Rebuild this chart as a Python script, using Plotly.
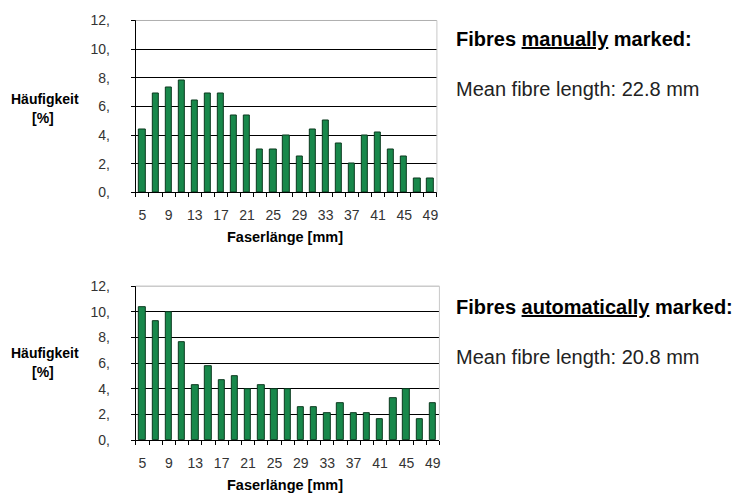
import plotly.graph_objects as go

lengths = list(range(5, 50, 2))
manual = [4.4, 6.9, 7.3, 7.8, 6.4, 6.9, 6.9, 5.4, 5.4, 3.0, 3.0, 4.0, 2.5, 4.4, 5.0, 3.4, 2.0, 4.0, 4.2, 3.0, 2.5, 1.0, 1.0]
automatic = [10.4, 9.3, 10.0, 7.6, 4.3, 5.8, 4.7, 5.0, 4.0, 4.3, 4.0, 4.0, 2.6, 2.6, 2.1, 2.9, 2.1, 2.1, 1.6, 3.3, 4.0, 1.6, 2.9]
x_ticks = list(range(5, 50, 4))
y_ticks = [0, 2, 4, 6, 8, 10, 12]
y_ticktext = ["0,", "2,", "4,", "6,", "8,", "10,", "12,"]
y_title = "Häufigkeit"
x_title = "Faserlänge [mm]"
titles = ["Fibres <u>manually</u> marked:", "Fibres <u>automatically</u> marked:"]
means = ["Mean fibre length: 22.8 mm", "Mean fibre length: 20.8 mm"]

FONT = "Liberation Sans, Arial, sans-serif"
W, H = 737, 486


def px(x):
    return (x - 8) / W


def py(y):
    return 1 - ((y - 15) / 0.969) / H


fig = go.Figure()
series = [manual, automatic]
plot_top = [19.5, 285.7]
plot_bot = [191.7, 440.0]
plot_right = [437.5, 440.0]
plot_left = 136
ylabel_y = [98, 353]
xtitle_y = [236, 485]
title_y = [38, 307]
mean_y = [88, 357]

for i in range(2):
    xa = "x" if i == 0 else "x2"
    ya = "y" if i == 0 else "y2"
    axkey = "" if i == 0 else "2"
    dx = (px(plot_left), px(plot_right[i]))
    dy = (py(plot_bot[i]), py(plot_top[i]))
    fig.add_trace(go.Bar(x=lengths, y=series[i], width=0.95, xaxis=xa, yaxis=ya,
                         marker=dict(color="#18884b", line=dict(color="#0b3a1f", width=1)),
                         showlegend=False))
    fig.layout["xaxis" + axkey] = dict(
        domain=dx, range=[4, 50], anchor=ya, tickvals=x_ticks,
        ticks="", showgrid=False, showline=True, linecolor="black", linewidth=1,
        zeroline=False, tickfont=dict(family=FONT, size=14, color="#333"),
        ticklabelstandoff=10,
        minor=dict(tickvals=list(range(4, 51, 2)), ticks="outside", ticklen=4,
                   tickcolor="black", showgrid=False),
    )
    fig.layout["yaxis" + axkey] = dict(
        domain=dy, range=[0, 12], anchor=xa, tickvals=y_ticks, ticktext=y_ticktext,
        ticks="outside", ticklen=4, tickcolor="black", showgrid=True, gridcolor="black",
        gridwidth=1, showline=True, linecolor="black", linewidth=1, zeroline=False,
        tickfont=dict(family=FONT, size=14, color="#333"), ticklabelstandoff=18,
    )
    fig.add_shape(type="line", xref="paper", yref="paper", x0=dx[0], x1=dx[1], y0=dy[1], y1=dy[1],
                  line=dict(color="#b0b0b0", width=1), layer="above")
    fig.add_shape(type="line", xref="paper", yref="paper", x0=dx[1], x1=dx[1], y0=dy[0], y1=dy[1],
                  line=dict(color="#c8c8c8", width=1), layer="above")
    fig.add_annotation(xref="paper", yref="paper", x=px(45), y=py(ylabel_y[i]),
                       xanchor="center", yanchor="middle",
                       text="<b>" + y_title + "</b>", showarrow=False,
                       font=dict(family=FONT, size=14, color="black"))
    fig.add_annotation(xref="paper", yref="paper", x=px(43), y=py(ylabel_y[i] + 19),
                       xanchor="center", yanchor="middle",
                       text="<b>[%]</b>", showarrow=False,
                       font=dict(family=FONT, size=14, color="black"))
    fig.add_annotation(xref="paper", yref="paper", x=px(285), y=py(xtitle_y[i]),
                       xanchor="center", yanchor="middle",
                       text="<b>" + x_title + "</b>", showarrow=False,
                       font=dict(family=FONT, size=14.5, color="black"))
    fig.add_annotation(xref="paper", yref="paper", x=px(455), y=py(title_y[i]), xanchor="left",
                       yanchor="middle", text="<b>" + titles[i] + "</b>", showarrow=False,
                       font=dict(family=FONT, size=20, color="black"))
    fig.add_annotation(xref="paper", yref="paper", x=px(455), y=py(mean_y[i]), xanchor="left",
                       yanchor="middle", text=means[i], showarrow=False,
                       font=dict(family=FONT, size=20, color="#222"))

fig.update_layout(width=W, height=H, margin=dict(l=0, r=0, t=0, b=0),
                  paper_bgcolor="white", plot_bgcolor="white", bargap=0)
fig.write_html("out.html")
